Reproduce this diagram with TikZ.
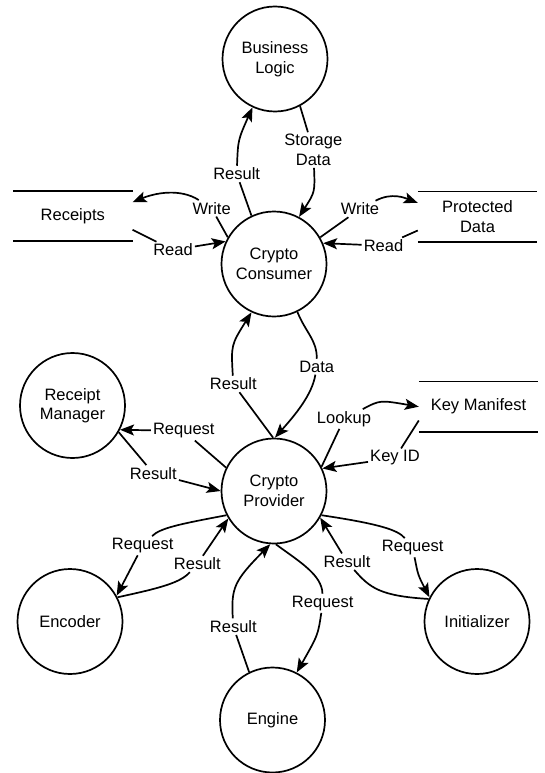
\documentclass[tikz,border=0pt]{standalone}
\usepackage{fontspec}
\setmainfont{Liberation Sans}
\usepackage{tikz}
\usetikzlibrary{arrows.meta}
\tikzset{
  proc/.style={circle,draw,line width=1.7pt,minimum size=105pt,inner sep=0pt,align=center},
  store/.style={minimum width=119pt,minimum height=50pt,inner sep=0pt,align=center},
  lbl/.style={inner sep=2pt,align=center},
  flow/.style={line width=1.7pt},
  arr/.style={line width=1.7pt,-{Stealth[length=14pt,width=11pt,inset=3pt]}}
}

\begin{document}
\begin{tikzpicture}[x=1pt,y=-1pt,font=\fontsize{16.5}{19.5}\selectfont]
			\useasboundingbox (0,0) rectangle (544,773);
			\node[proc] (bl) at (275,59) {Business\\Logic};
			\node[proc] (cc) at (274,264) {Crypto\\Consumer};
			\node[proc] (cp) at (274,491) {Crypto\\Provider};
			\node[proc] (rm) at (72.5,405.5) {Receipt\\Manager};
			\node[proc] (enc) at (70,621.5) {Encoder};
			\node[proc] (eng) at (272.5,720) {Engine};
			\node[proc] (ini) at (477,621.5) {Initializer};
			\node[store] (rcp) at (72.8,216) {Receipts};
			\node[store] (pd) at (477.5,216.7) {Protected\\Data};
			\node[store] (km) at (478.5,406.7) {Key Manifest};
			\foreach \Depot in {rcp,pd,km}
				\draw[flow] (\Depot.north west) -- (\Depot.north east) (\Depot.south west) -- (\Depot.south east);
			\node[lbl] (lres1) at (236.7,174) {Result};
			\node[lbl] (lsto) at (313.3,150) {Storage\\Data};
			\node[lbl] (lwrl) at (211.6,208.3) {Write};
			\node[lbl] (lrdl) at (173,250) {Read};
			\node[lbl] (lwrr) at (360,209) {Write};
			\node[lbl] (lrdr) at (383.5,245.7) {Read};
			\node[lbl] (lres2) at (233.3,384) {Result};
			\node[lbl] (ldata) at (316.7,366.7) {Data};
			\node[lbl] (lreq1) at (183.8,431) {Request};
			\node[lbl] (lres3) at (153.3,473.3) {Result};
			\node[lbl] (llook) at (344,419) {Lookup};
			\node[lbl] (lkey) at (395,458) {Key ID};
			\node[lbl] (lreq2) at (142.7,545.7) {Request};
			\node[lbl] (lres4) at (197.3,564) {Result};
			\node[lbl] (lres5) at (233.3,626.7) {Result};
			\node[lbl] (lreq3) at (322.7,603.3) {Request};
			\node[lbl] (lreq4) at (412.7,547.7) {Request};
			\node[lbl] (lres6) at (347,561.7) {Result};
			\draw[flow] (cc.115) -- (lres1);
			\draw[arr] (lres1) .. controls (238,140) .. (bl.-115);
			\draw[flow] (bl.-62) -- (lsto);
			\draw[arr] (lsto) .. controls (315,192) .. (cc.62);
			\draw[flow] (cc.150) -- (lwrl);
			\draw[arr] (lwrl) .. controls (180,188) and (155,193) .. (rcp.13);
			\draw[flow] (rcp.-13) -- (lrdl);
			\draw[arr] (lrdl) -- (cc.155);
			\draw[flow] (cc.30) -- (lwrr);
			\draw[arr] (lwrr) .. controls (392,192) and (405,198) .. (pd.167);
			\draw[flow] (pd.193) -- (lrdr);
			\draw[arr] (lrdr) -- (cc.23);
			\draw[flow] (cp.91) -- (lres2);
			\draw[arr] (lres2) .. controls (231,345) .. (cc.-115);
			\draw[flow] (cc.-64) .. controls (306,333) and (317,340) .. (ldata);
			\draw[arr] (ldata) .. controls (312,395) and (295,415) .. (cp.89);
			\draw[flow] (cp.154) -- (lreq1);
			\draw[arr] (lreq1) -- (rm.-27);
			\draw[flow] (rm.-30) -- (lres3);
			\draw[arr] (lres3) -- (cp.180);
			\draw[flow] (cp.27) -- (llook);
			\draw[arr] (llook) .. controls (380,400) .. (km.west);
			\draw[flow] (km.193) -- (lkey);
			\draw[arr] (lkey) -- (cp.25);
			\draw[flow] (cp.207) .. controls (180,524) and (160,528) .. (lreq2);
			\draw[arr] (lreq2) -- (enc.29);
			\draw[flow] (enc.27) .. controls (160,588) and (180,583) .. (lres4);
			\draw[arr] (lres4) -- (cp.211);
			\draw[flow] (eng.116) -- (lres5);
			\draw[arr] (lres5) .. controls (231,588) and (234,581) .. (cp.266);
			\draw[flow] (cp.272) .. controls (300,562) and (322,575) .. (lreq3);
			\draw[arr] (lreq3) .. controls (318,635) .. (eng.63);
			\draw[flow] (cp.-27) .. controls (380,524) and (398,530) .. (lreq4);
			\draw[arr] (lreq4) .. controls (418,575) .. (ini.153);
			\draw[flow] (ini.155) .. controls (380,596) and (370,588) .. (lres6);
			\draw[arr] (lres6) -- (cp.-30);
		\end{tikzpicture}
\end{document}
